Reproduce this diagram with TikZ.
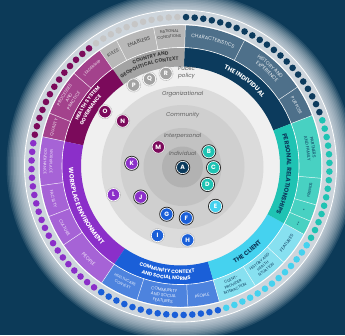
\documentclass[tikz,border=0pt]{standalone}
\usepackage{fontspec}
\setmainfont{Poppins}
\usetikzlibrary{decorations.text}
% colours
\definecolor{bgblue}{RGB}{12,58,88}
\definecolor{indiv}{RGB}{12,59,93}
\definecolor{indivsub}{RGB}{78,112,138}
\definecolor{country}{RGB}{163,163,163}
\definecolor{countrysub}{RGB}{184,184,184}
\definecolor{health}{RGB}{123,10,91}
\definecolor{healthsub}{RGB}{163,66,140}
\definecolor{work}{RGB}{139,47,201}
\definecolor{worksub}{RGB}{166,99,214}
\definecolor{commun}{RGB}{26,95,216}
\definecolor{communsub}{RGB}{77,131,222}
\definecolor{client}{RGB}{69,210,239}
\definecolor{clientsub}{RGB}{135,224,240}
\definecolor{relat}{RGB}{31,195,179}
\definecolor{relatsub}{RGB}{72,209,194}
\definecolor{ringgray}{RGB}{205,213,220}
\definecolor{graytext}{RGB}{60,60,60}
\definecolor{lvltext}{RGB}{95,95,95}
\colorlet{dot0}{relat}
\colorlet{dot1}{indiv}
\definecolor{dot2}{RGB}{198,198,198}
\colorlet{dot3}{health}
\colorlet{dot4}{work}
\colorlet{dot5}{commun}
\colorlet{dot6}{client}
\colorlet{dot7}{relat}
\newcommand\bandfont{\fontsize{6.2}{7}\selectfont\bfseries}
\newcommand\bandsmall{\fontsize{5}{6}\selectfont\bfseries}
\newcommand\subfont{\fontsize{5}{6}\selectfont}
\newcommand\subsmall{\fontsize{4.4}{5}\selectfont}
\newcommand\subtiny{\fontsize{3.9}{4.5}\selectfont}

\begin{document}
\begin{tikzpicture}[x=1pt,y=1pt,line join=round,line cap=round,
    badge/.style={circle,fill=#1,draw=white,line width=.6pt,minimum size=12.4pt,inner sep=0pt,
      text=white,font=\fontsize{6.2}{6.2}\selectfont\bfseries},
    lvl/.style={font=\fontsize{5.6}{6.8}\selectfont\itshape,text=lvltext,inner sep=0pt},
    darkring/.style={black!85,line width=.7pt},
    lightring/.style={gray!55,line width=.6pt,densely dotted}]
  \def\sect#1#2#3#4#5{\fill[#1] (#4:#2) arc[start angle=#4,end angle=#5,radius=#2] -- (#5:#3) arc[start angle=#5,end angle=#4,radius=#3] -- cycle;}
  \def\cwl#1#2#3#4{\path[decorate,decoration={text along path,text align=center,text={|#1|#4}}] ({#3+45}:#2) arc[start angle={#3+45},end angle={#3-45},radius=#2];}
  \def\ccwl#1#2#3#4{\path[decorate,decoration={text along path,text align=center,text={|#1|#4}}] ({#3-45}:#2) arc[start angle={#3-45},end angle={#3+45},radius=#2];}
  \def\rin{99.5} \def\rmid{118.5} \def\rout{140.8}
  \fill[bgblue] (-180.5,-169) rectangle (164.5,166);
  \useasboundingbox (-180.5,-169) rectangle (164.5,166);
  % glow
  \foreach \r in {174,172.5,...,156} \fill[white,opacity=.1] (0,0) circle (\r);
  \fill[ringgray] (0,0) circle (156);
  \draw[white,line width=.8pt] (0,0) circle (156);
  \fill[black!6] (0,0) circle (\rin);
  % inner band
  \sect{indiv}{\rin}{\rmid}{21}{88}
  \sect{country}{\rin}{\rmid}{88}{125}
  \sect{health}{\rin}{\rmid}{125}{168}
  \sect{work}{\rin}{\rmid}{168}{236}
  \sect{commun}{\rin}{\rmid}{236}{286}
  \sect{client}{\rin}{\rmid}{286}{331}
  \sect{relat}{\rin}{\rmid}{331}{381}
  % outer band
  \sect{indivsub}{\rmid}{\rout}{21}{88}
  \sect{countrysub}{\rmid}{\rout}{88}{125}
  \sect{healthsub}{\rmid}{\rout}{125}{168}
  \sect{worksub}{\rmid}{\rout}{168}{236}
  \sect{communsub}{\rmid}{\rout}{236}{286}
  \sect{clientsub}{\rmid}{\rout}{286}{331}
  \sect{relatsub}{\rmid}{\rout}{331}{381}
  \draw[white,line width=.6pt] (0,0) circle (\rmid);
  \draw[white,line width=1pt] (0,0) circle (141.5);
  \foreach \a in {21,34,63,88,101,117,125,139,158,168,188,201,214,236,252,273,286,302,317,331,337,344,355}
    \draw[white,opacity=.85,line width=.5pt] (\a:\rmid) -- (\a:\rout);
  % dots
  \foreach \i in {0,...,107}{
    \pgfmathsetmacro\ang{\i*10/3+1.2}
    \pgfmathtruncatemacro\k{(\ang>21)+(\ang>88)+(\ang>125)+(\ang>168)+(\ang>236)+(\ang>286)+(\ang>331)}
    \fill[dot\k] (\ang:149) circle (3.3);
  }
  % levels
  \fill[black!14] (2,-1) circle (81);
  \fill[black!19] (2,-1) circle (62);
  \fill[black!24] (2,-1) circle (39);
  \fill[black!30] (2,-1) circle (20.5);
  \node[lvl] (individual) at (2.2,12.7) {Individual};
  \node[lvl] (interpersonal) at (2.2,30) {Interpersonal};
  \node[lvl] (community) at (2.2,51) {Community};
  \node[lvl] (organizational) at (2.2,72) {Organizational};
  \node[lvl,anchor=west,align=left] (publicpolicy) at (-2.5,93.5) {Public\\policy};
  % inner band labels
  \cwl{\bandfont\color{white}}{106.5}{53}{THE INDIVIDUAL}
  \cwl{\bandsmall\color{graytext}}{112}{105.5}{COUNTRY AND}
  \cwl{\bandsmall\color{graytext}}{105.5}{107.5}{GEOPOLITICAL CONTEXT}
  \cwl{\bandsmall\color{white}}{112}{146}{HEALTH SYSTEM}
  \cwl{\bandsmall\color{white}}{105.5}{148}{GOVERNANCE}
  \ccwl{\bandfont\color{white}}{111.5}{203}{WORKPLACE ENVIRONMENT}
  \ccwl{\bandsmall\color{white}}{107.5}{262.5}{COMMUNITY CONTEXT}
  \ccwl{\bandsmall\color{white}}{114}{262.5}{AND SOCIAL NORMS}
  \ccwl{\bandfont\color{indiv}}{111.5}{308}{THE CLIENT}
  \cwl{\bandfont\color{indiv}}{106.5}{355.5}{PERSONAL RELATIONSHIPS}
  % outer band labels
  \cwl{\subfont\color{white!88!indivsub}}{129}{75.5}{CHARACTERISTICS}
  \cwl{\subfont\color{white!88!indivsub}}{133}{48}{HISTORY AND}
  \cwl{\subfont\color{white!88!indivsub}}{127}{47.5}{EXPERIENCE}
  \cwl{\subsmall\color{white!88!indivsub}}{129.5}{27.5}{PURPOSE}
  \cwl{\subtiny\color{graytext}}{134}{94.8}{NATIONAL}
  \cwl{\subtiny\color{graytext}}{128.5}{95}{CONDITIONS}
  \cwl{\subfont\color{graytext}}{129.5}{108.5}{ENABLERS}
  \cwl{\subsmall\color{graytext}}{130.5}{120.8}{RULES}
  \cwl{\subtiny\color{white!85!healthsub}}{131}{132}{LEADERSHIP}
  \cwl{\subsmall\color{white!85!healthsub}}{135}{148.5}{PROCESSES}
  \cwl{\subsmall\color{white!85!healthsub}}{129.5}{148.5}{AND}
  \cwl{\subsmall\color{white!85!healthsub}}{124}{148.5}{PRACTICE}
  \cwl{\subsmall\color{white!85!healthsub}}{131}{163}{QUALITY}
  \ccwl{\subtiny\color{white!85!worksub}}{131}{178}{WORKPLACE}
  \ccwl{\subtiny\color{white!85!worksub}}{137}{178}{GOVERNANCE}
  \ccwl{\subsmall\color{white!85!worksub}}{133}{194.5}{FACILITY}
  \ccwl{\subsmall\color{white!85!worksub}}{133}{208}{CULTURE}
  \ccwl{\subfont\color{white!85!worksub}}{133}{225.5}{PEOPLE}
  \ccwl{\subtiny\color{white!85!communsub}}{128}{244}{HEALTHCARE}
  \ccwl{\subtiny\color{white!85!communsub}}{133.5}{244}{CONTEXT}
  \ccwl{\subsmall\color{white!88!communsub}}{126.5}{262.5}{COMMUNITY}
  \ccwl{\subsmall\color{white!88!communsub}}{132}{262.5}{AND SOCIAL}
  \ccwl{\subsmall\color{white!88!communsub}}{137.5}{262.5}{FEATURES}
  \ccwl{\subsmall\color{white!88!communsub}}{133}{279.5}{PEOPLE}
  \ccwl{\subtiny\color{indiv}}{126}{294}{CLIENT-}
  \ccwl{\subtiny\color{indiv}}{131}{294}{PROVIDER}
  \ccwl{\subtiny\color{indiv}}{136}{294}{INTERACTION}
  \ccwl{\subtiny\color{indiv}}{126}{309.5}{HISTORY AND}
  \ccwl{\subtiny\color{indiv}}{131}{309.5}{HEALTH}
  \ccwl{\subtiny\color{indiv}}{136}{309.5}{SITUATION}
  \ccwl{\subsmall\color{indiv}}{133}{324}{FEATURES}
  \ccwl{\subtiny\color{indiv}}{133}{334}{**}
  \ccwl{\subtiny\color{indiv}}{133}{340.5}{*}
  \ccwl{\subtiny\color{indiv}}{133}{349.5}{FRIENDS}
  \cwl{\subsmall\color{indiv}}{132.5}{8}{PARTNERS}
  \cwl{\subsmall\color{indiv}}{127}{8}{AND FAMILY}
  % stages
  \node[badge=indiv] (A) at (2.2,-1.5) {A};
  \node[badge=relat] (B) at (28.3,14.3) {B};
  \node[badge=relat] (C) at (33,-1.7) {C};
  \node[badge=relat] (D) at (27,-18.5) {D};
  \node[badge=client] (E) at (35,-40.3) {E};
  \node[badge=commun] (F) at (5.8,-52) {F};
  \node[badge=commun] (G) at (-13.8,-48.2) {G};
  \node[badge=commun] (H) at (7.2,-74) {H};
  \node[badge=commun] (I) at (-23,-69.5) {I};
  \node[badge=work] (J) at (-39.8,-31) {J};
  \node[badge=work] (K) at (-48.8,2.7) {K};
  \node[badge=work] (L) at (-67,-28.7) {L};
  \node[badge=health] (M) at (-22.2,19) {M};
  \node[badge=health] (N) at (-57.8,45) {N};
  \node[badge=health] (O) at (-75.5,54.3) {O};
  \node[badge=country] (P) at (-46.8,81) {P};
  \node[badge=country] (Q) at (-31,87) {Q};
  \node[badge=country] (R) at (-14.5,92.5) {R};
  \foreach \n in {A,B,C,D,E,F,G,J,K} \draw[darkring] (\n.center) circle (7.1);
  \foreach \n in {H,I,L,M,N,O,P,Q,R} \draw[lightring] (\n.center) circle (7.1);
\end{tikzpicture}
\end{document}
